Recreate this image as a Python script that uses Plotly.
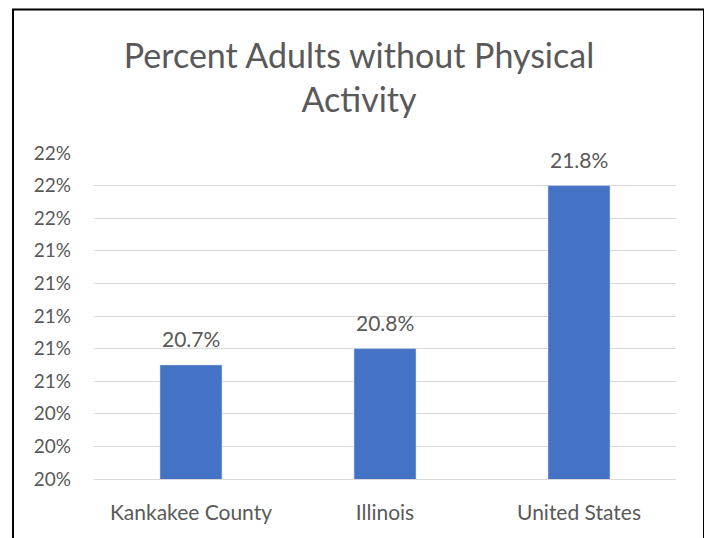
import plotly.graph_objects as go

categories = ["Kankakee County", "Illinois", "United States"]
values = [0.207, 0.208, 0.218]
value_labels = ["20.7%", "20.8%", "21.8%"]
tick_values = [0.200, 0.202, 0.204, 0.206, 0.208, 0.210, 0.212, 0.214, 0.216, 0.218, 0.220]
tick_labels = ["20%", "20%", "20%", "21%", "21%", "21%", "21%", "21%", "22%", "22%", "22%"]

OFF = 8  # page body margin
W, H = 712 - OFF, 538 - OFF
L, R, T, B = 94 - OFF, 676 - OFF, 152.7 - OFF, 479 - OFF
FONT = "Lato"
GREY = "#595959"

def px_x(p):
    return (p - OFF - L) / (R - L)

def px_y(p):
    return (B - (p - OFF)) / (B - T)

fig = go.Figure()
fig.add_trace(go.Bar(
    x=categories, y=values, marker_color="#4472C4", width=0.32,
    hoverinfo="skip",
))

for c, v, t in zip(categories, values, value_labels):
    fig.add_annotation(x=c, y=v, text=t, showarrow=False, yanchor="bottom",
                       yshift=12, font=dict(family=FONT, size=21, color=GREY))

fig.add_shape(type="rect", xref="paper", yref="paper",
              x0=px_x(13), x1=px_x(704), y0=px_y(560), y1=px_y(9),
              line=dict(color="#000000", width=2), fillcolor="rgba(0,0,0,0)", layer="below")

fig.update_layout(
    width=W, height=H,
    margin=dict(l=L, r=W - R, t=T, b=H - B, pad=0),
    paper_bgcolor="white", plot_bgcolor="white",
    showlegend=False, bargap=0.68,
    title=dict(text="Percent Adults without Physical<br>Activity",
               x=(359 - OFF) / W, xanchor="center", xref="container",
               y=1 - (68 - OFF) / H, yanchor="middle", yref="container",
               font=dict(family=FONT, size=34, color=GREY)),
    xaxis=dict(showgrid=False, showline=True, linecolor="#D9D9D9", linewidth=1,
               tickfont=dict(family=FONT, size=21, color=GREY),
               ticks="", ticklabelstandoff=15),
    yaxis=dict(range=[0.2, 0.22], tickvals=tick_values, ticktext=tick_labels,
               showgrid=True, gridcolor="#D9D9D9", gridwidth=1, zeroline=False,
               showline=False, ticks="",
               tickfont=dict(family=FONT, size=19, color=GREY),
               ticklabelstandoff=22),
)

fig.write_html("out.html")
